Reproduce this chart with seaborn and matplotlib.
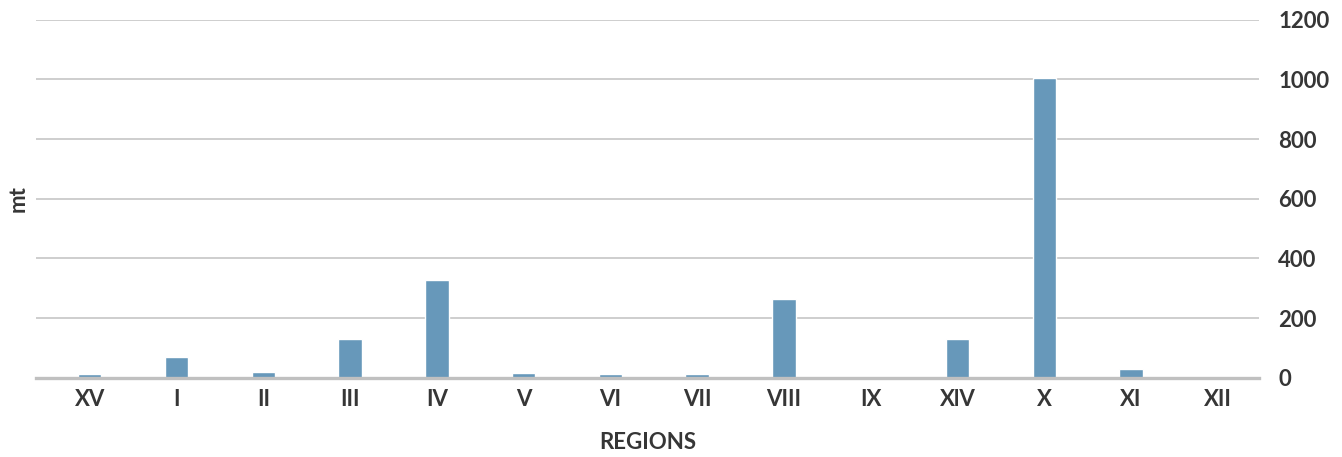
import matplotlib
matplotlib.use("Agg")
import matplotlib.pyplot as plt
import seaborn as sns
import pandas as pd

regions = ["XV", "I", "II", "III", "IV", "V", "VI", "VII", "VIII", "IX", "XlV", "X", "XI", "XII"]
tonnes = [13, 70, 20, 130, 328, 17, 13, 13, 265, 0, 130, 1003, 30, 0]
y_ticks = [0, 200, 400, 600, 800, 1000, 1200]

df = pd.DataFrame({"region": regions, "mt": tonnes})

sns.set_theme(style="white")
plt.rcParams["font.family"] = ["Lato", "DejaVu Sans"]
text_color = "#363636"

fig = plt.figure(figsize=(13.42, 4.57), dpi=100)
ax = fig.add_axes([0.0268, 0.1729, 0.9111, 0.7844])

sns.barplot(data=df, x="region", y="mt", order=regions, color="#6798ba",
            saturation=1, width=0.27, ax=ax, zorder=3)

ax.set_xlim(-0.62, 13.47)
ax.set_ylim(0, 1200)
ax.set_yticks(y_ticks)
ax.yaxis.tick_right()
ax.yaxis.set_label_position("left")

ax.yaxis.grid(True, color="#cacaca", linewidth=1.3, zorder=0)
ax.xaxis.grid(False)
for side in ["top", "left", "right"]:
    ax.spines[side].set_visible(False)
ax.spines["bottom"].set_color("#c0c0c0")
ax.spines["bottom"].set_linewidth(2.4)
ax.spines["bottom"].set_zorder(4)

ax.tick_params(axis="both", length=0)
ax.tick_params(axis="y", pad=14, labelsize=16, labelcolor=text_color)
ax.tick_params(axis="x", pad=8, labelsize=16, labelcolor=text_color)
for lbl in ax.get_xticklabels() + ax.get_yticklabels():
    lbl.set_fontweight("bold")

ax.set_xlabel("REGIONS", fontsize=16, fontweight="bold", color=text_color, labelpad=16)
ax.set_ylabel("mt", fontsize=16, fontweight="bold", color=text_color, labelpad=5)

fig.savefig("out.png", dpi=100)
